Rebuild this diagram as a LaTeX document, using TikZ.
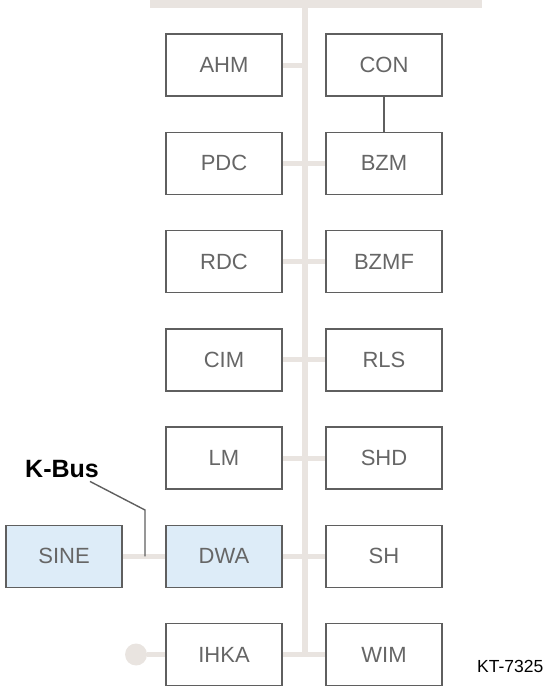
\documentclass[tikz,border=0pt]{standalone}
\usepackage{fontspec}
\setmainfont{Liberation Sans}
\usetikzlibrary{positioning}
\definecolor{busgray}{RGB}{233,228,224}
\definecolor{boxline}{RGB}{95,95,95}
\definecolor{modblue}{RGB}{221,236,248}

\begin{document}
\begin{tikzpicture}[
  x=1pt, y=1pt,
  node distance=34.75pt and 42.5pt,
  box/.style={rectangle, draw=boxline, line width=1.5pt, fill=white,
              minimum width=116pt, minimum height=62pt, inner sep=0pt,
              font=\fontsize{22}{24}\selectfont, text=black!60},
  boxk/.style={box, fill=modblue},
  bus/.style={busgray, line width=6pt},
  stub/.style={busgray, line width=5pt},
  lead/.style={boxline, line width=1.4pt}
]
\useasboundingbox (0,0) rectangle (545,-688);
% modules, left and right of the bus
\node[box] (ahm) at (224,-65) {AHM};
\node[box, right=of ahm] (con) {CON};
\node[box, below=of ahm] (pdc) {PDC};
\node[box, right=of pdc] (bzm) {BZM};
\node[box, below=of pdc] (rdc) {RDC};
\node[box, right=of rdc] (bzmf) {BZMF};
\node[box, below=of rdc] (cim) {CIM};
\node[box, right=of cim] (rls) {RLS};
\node[box, below=of cim] (lm) {LM};
\node[box, right=of lm] (shd) {SHD};
\node[boxk, below=of lm] (dwa) {DWA};
\node[box, right=of dwa] (sh) {SH};
\node[box, below=of dwa] (ihka) {IHKA};
\node[box, right=of ihka] (wim) {WIM};
\node[boxk, left=of dwa] (sine) {SINE};
\node[circle, fill=busgray, minimum size=22pt, inner sep=0pt, left=18pt of ihka] (term) {};

% bus
\coordinate (barl) at (150,-4);
\coordinate (barr) at (482,-4);
\coordinate (bus) at (305,-4);
\draw[busgray, line width=8pt] (barl) -- (barr);
\draw[bus] (bus) -- (bus |- ihka);
\draw[stub] (ahm) -- (ahm -| bus);
\foreach \a/\b in {pdc/bzm,rdc/bzmf,cim/rls,lm/shd,dwa/sh,ihka/wim,sine/dwa,term/ihka}
  \draw[stub] (\a) -- (\b);
\draw[lead] (con) -- (bzm);

% K-Bus label
\node[font=\bfseries\fontsize{25}{28}\selectfont, inner sep=0pt, anchor=base west] (kbus) at (25,-477) {K-Bus};
\coordinate (kbend) at (145,-510);
\draw[lead] ([xshift=28pt,yshift=-4pt]kbus.south) -- (kbend) -- (kbend |- sine);

\node[font=\fontsize{17.5}{20}\selectfont, inner sep=0pt, anchor=base west] (kt) at (477,-672) {KT-7325};
\end{tikzpicture}
\end{document}
